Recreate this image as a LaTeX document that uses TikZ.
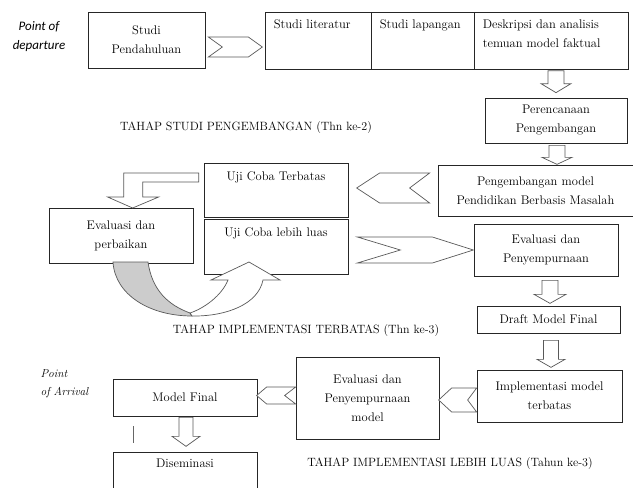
\documentclass[tikz,border=0pt]{standalone}
\usepackage{fontspec}
\newfontfamily\calibrifont{Carlito}
\usetikzlibrary{positioning,calc}

\newcommand{\boxfont}{\fontsize{12.5}{19}\selectfont}
\newcommand{\titlefont}{\fontsize{12}{14}\selectfont}

% hollow chevron: start, length, half height, tip, notch
\newcommand{\chevron}[5]{%
  \draw[chev] #1 ++(0,{-(#3)}) -- ++({(#2)-(#4)},0) -- ++({#4},{#3})
    -- ++({-(#4)},{#3}) -- ++({(#4)-(#2)},0) -- ++({#5},{-(#3)}) -- cycle;}
% hollow block arrow pointing down: start, length, half shaft, half head, head length
\newcommand{\blkdown}[5]{%
  \draw[blk] #1 ++({-(#3)},0) -- ++(0,{(#2)-(#5)}) -- ++({(#3)-(#4)},0)
    -- ++({#4},{#5}) -- ++({#4},{-(#5)}) -- ++({(#3)-(#4)},0)
    -- ++(0,{(#5)-(#2)}) -- cycle;}

\tikzset{
  box/.style={draw=black!85, line width=0.7pt, fill=white, inner sep=2pt,
    align=center, font=\boxfont},
  txt/.style={inner sep=1pt, align=center, font=\boxfont},
  chev/.style={draw=black!65, line width=0.7pt, fill=white},
  blk/.style={draw=black!65, line width=0.7pt, fill=white},
}

\begin{document}
\begin{tikzpicture}[x=1pt,y=-1pt]
  \useasboundingbox (0,0) rectangle (633,488);
  \clip (0,0) rectangle (633,488);

  % studi pendahuluan
  \node[font=\calibrifont\itshape\fontsize{13}{19}\selectfont, align=center] (dep) at (39,37) {Point of\\departure};
  \node[box, minimum width=117, minimum height=56] (sp) at (146.5,40) {Studi\\Pendahuluan};
  \node[box, minimum width=106, minimum height=57] (lit) at (318,40.5) {};
  \node[box, minimum width=103, minimum height=57] (lap) at (422.5,40.5) {};
  \node[box, minimum width=154, minimum height=57] (des) at (551,40.5) {};
  \node[txt, anchor=north west] at ($(lit.north west)+(8,7)$) {Studi literatur};
  \node[txt, anchor=north west] at ($(lap.north west)+(8,7)$) {Studi lapangan};
  \node[txt, anchor=north west, align=left] at ($(des.north west)+(8,7)$) {Deskripsi dan analisis\\temuan model faktual};
  \node[box, minimum width=142, minimum height=45] (per) at (556,120.5) {Perencanaan\\Pengembangan};
  \node[font=\titlefont] (t2) at (246,128) {TAHAP STUDI PENGEMBANGAN (Thn ke-2)};

  % uji coba
  \node[box, minimum width=195, minimum height=51] (peng) at (535.5,190.5) {Pengembangan model\\Pendidikan Berbasis Masalah};
  \node[box, minimum width=144, minimum height=54] (ujit) at (276,190) {};
  \node[txt, below=8pt of ujit.north] {Uji Coba Terbatas};
  \node[box, minimum width=144, minimum height=55] (ujil) at (276,246.5) {};
  \node[txt, below=8pt of ujil.north] {Uji Coba lebih luas};
  \node[box, minimum width=144, minimum height=55] (evp) at (121,235.5) {Evaluasi dan\\perbaikan};
  \node[box, minimum width=144, minimum height=52] (eps) at (546,250) {Evaluasi dan\\Penyempurnaan};
  \node[box, minimum width=143, minimum height=27] (dmf) at (548.5,319.5) {Draft Model Final};
  \node[font=\titlefont] (t3) at (306,331) {TAHAP IMPLEMENTASI TERBATAS (Thn ke-3)};

  % implementasi
  \node[box, minimum width=145, minimum height=52] (imp) at (549.5,396) {Implementasi model\\terbatas};
  \node[box, minimum width=143, minimum height=82] (epm) at (367.5,398) {Evaluasi dan\\Penyempurnaan\\model};
  \node[box, minimum width=144, minimum height=37] (mf) at (185,397.5) {Model Final};
  \node[box, minimum width=144, minimum height=40] (dis) at (185,472) {};
  \node[txt, below=6pt of dis.north] {Diseminasi};
  \node[font=\itshape\fontsize{11.5}{18}\selectfont, align=left, anchor=west] (arr) at (37,384) {Point\\of Arrival};
  \node[font=\titlefont] (t4) at (450,464) {TAHAP IMPLEMENTASI LEBIH LUAS (Tahun ke-3)};
  \coordinate (m1) at (133,426);
  \coordinate (m2) at (133,443);
  \draw[black!60, line width=0.7pt] (m1) -- (m2);

  % block arrows
  \chevron{($(sp.east)+(3,7)$)}{54}{10}{14}{14}
  \blkdown{($(per.north)+(0,-27)$)}{22}{8}{15}{9}
  \blkdown{($(per.south)+(1,2)$)}{19}{8}{15}{7}
  \chevron{($(peng.west)+(-8,-2.5)$)}{-73}{15}{-23}{-20}
  \chevron{($(ujil.east)+(9,3.5)$)}{116}{13}{41}{43}
  \blkdown{($(eps.south)+(4,4)$)}{23}{8}{16}{9}
  \blkdown{($(dmf.south)+(2.5,7)$)}{27}{7.5}{14}{8}
  \chevron{($(imp.west)+(0,4)$)}{-38}{12}{-13}{-9}
  \chevron{($(epm.west)+(0,-2.5)$)}{-39}{8.5}{-10}{-11}
  \blkdown{($(mf.south)+(1,1)$)}{29}{7}{14}{10}
  \draw[blk] ($(ujit.west)+(-5,-17)$) -- ++(-75,0) -- ++(0,24) -- ++(-16,0)
    -- ++(25,11) -- ++(26,-11) -- ++(-16,0) -- ++(0,-15) -- ++(56,0) -- cycle;

  % curved arrow
  \draw[blk, fill=black!20] (113,262) -- (148,262) .. controls (152,290) and (168,305) .. (190,313)
    -- (192,316) .. controls (150,316) and (115,295) .. (113,262) -- cycle;
  \draw[blk] (190,313) .. controls (205,308) and (222,295) .. (228,280) -- (211,280) -- (249,262)
    -- (280,280) -- (263,280) .. controls (258,305) and (225,316) .. (195,316) -- (192,316) -- cycle;
\end{tikzpicture}
\end{document}
